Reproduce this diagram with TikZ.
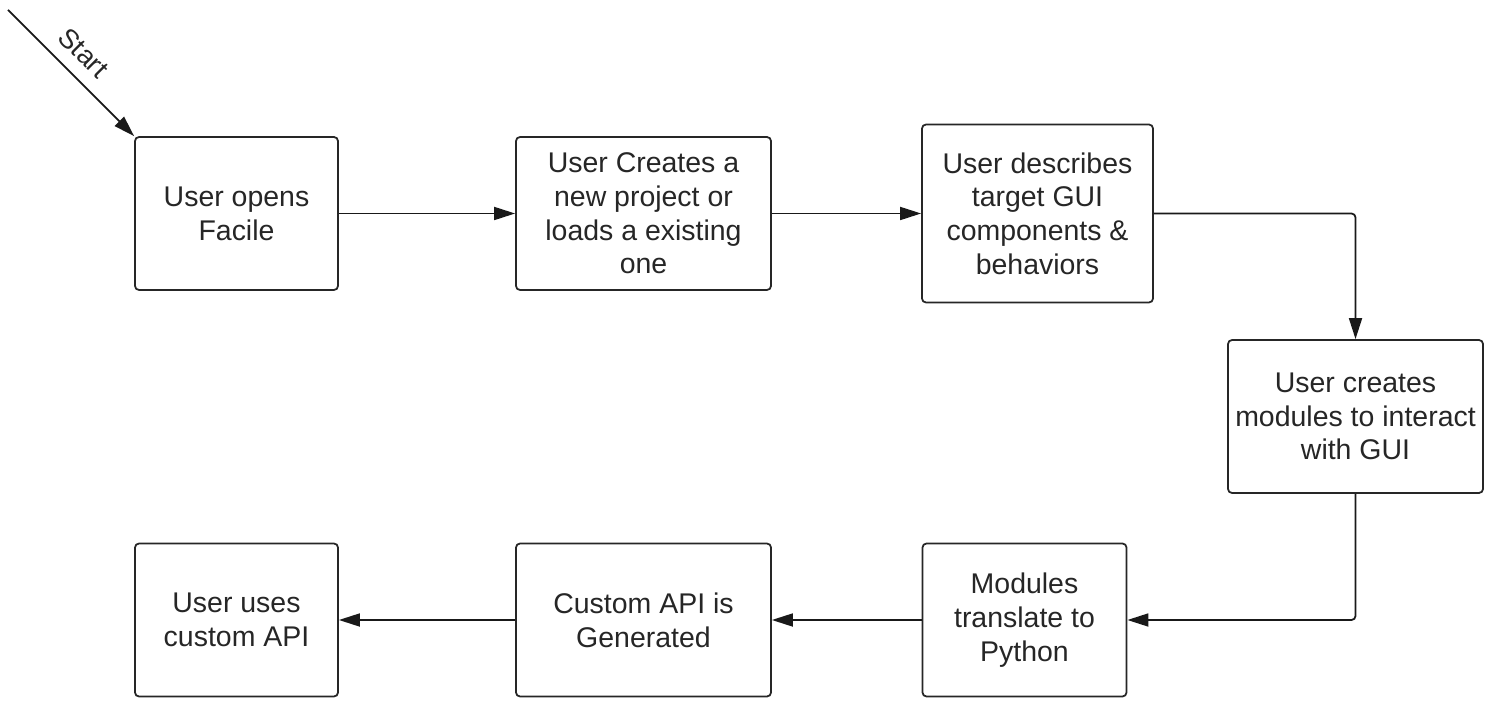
\documentclass[tikz,border=0pt]{standalone}
\usepackage{fontspec}
\setmainfont{Liberation Sans}
\usetikzlibrary{arrows.meta}

\begin{document}
\begin{tikzpicture}[
  box/.style={draw=black!85, line width=1pt, rounded corners=0.08cm, align=center,
              text=black!85, font=\fontsize{16.2}{19.2}\selectfont, inner sep=0pt},
  flow/.style={draw=black!90, line width=1pt, rounded corners=0.08cm,
               -{Triangle[length=0.42cm,width=0.26cm]}}]
            \useasboundingbox (0,0) rectangle (30,14.2);
            \coordinate (start) at (0.16,14.0);
            \node [box, minimum width=4.06cm, minimum height=3.06cm] (opens) at (4.73,9.93) {User opens\\Facile};
            \node [box, minimum width=5.1cm, minimum height=3.06cm] (project) at (12.87,9.93) {User Creates a\\new project or\\loads a existing\\one};
            \node [box, minimum width=4.62cm, minimum height=3.56cm] (describe) at (20.75,9.93) {User describes\\target GUI\\components \&\\behaviors};
            \node [box, minimum width=5.1cm, minimum height=3.06cm] (modules) at (27.11,5.87) {User creates\\modules to interact\\with GUI};
            \node [box, minimum width=4.08cm, minimum height=3.06cm] (python) at (20.49,1.8) {Modules\\translate to\\Python};
            \node [box, minimum width=5.1cm, minimum height=3.06cm] (api) at (12.87,1.8) {Custom API is\\Generated};
            \node [box, minimum width=4.06cm, minimum height=3.06cm] (uses) at (4.73,1.8) {User uses\\custom API};
            \draw [flow] (start) -- (opens.north west)
              node [pos=0.47, sloped, above=4pt, font=\fontsize{15.5}{18}\selectfont, text=black!85] {Start};
            \draw [flow] (opens) -- (project);
            \draw [flow] (project) -- (describe);
            \draw [flow] (describe.east) -| (modules.north);
            \draw [flow] (modules.south) |- (python.east);
            \draw [flow] (python) -- (api);
            \draw [flow] (api) -- (uses);
\end{tikzpicture}
\end{document}
